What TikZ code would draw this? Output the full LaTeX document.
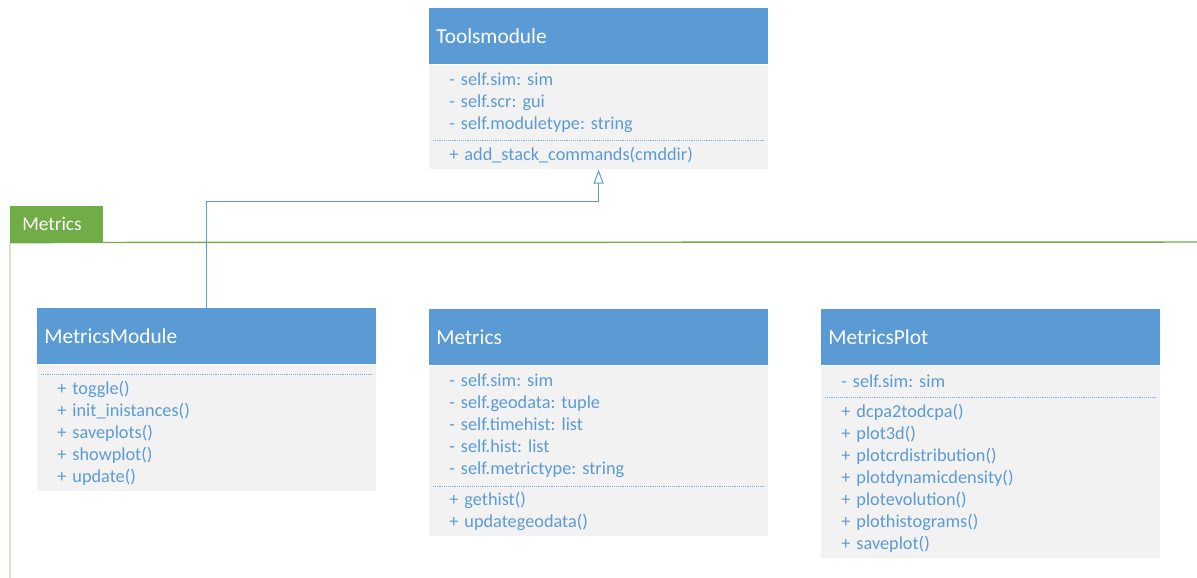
\documentclass[tikz,border=0pt]{standalone}
\usepackage{fontspec}
\setmainfont{Carlito}
\frenchspacing
\usepackage{xcolor}
\usetikzlibrary{arrows.meta,positioning}

\definecolor{hdrblue}{HTML}{5B9BD5}
\definecolor{txtblue}{HTML}{5B9BD5}
\definecolor{bodygray}{HTML}{F2F2F2}
\definecolor{pkggreen}{HTML}{70AD47}
\definecolor{pkgpale}{HTML}{D5E8C8}

\begin{document}
\begin{tikzpicture}[x=0.75pt,y=-0.75pt,>=Latex,
 hdr/.style={fill=hdrblue,text=white,anchor=north west,minimum width=254pt,minimum height=42pt,
   inner xsep=5.25pt,text width=243.5pt,align=left,font=\fontsize{16}{19}\selectfont},
 part/.style={fill=bodygray,text=txtblue,minimum width=254pt,inner xsep=15pt,inner ysep=0pt,
   text width=224pt,align=left,font=\fontsize{13.7}{16.5}\selectfont},
 sep/.style={draw=txtblue!80,line width=0.6pt,dash pattern=on 0.6pt off 0.8pt,shorten <=3pt,shorten >=3pt},
 inh/.style={draw=hdrblue,line width=0.75pt,-{Triangle[open,length=10.5pt,width=7.5pt]}},
 pkgtab/.style={fill=pkggreen,text=white,anchor=north west,minimum width=69.75pt,minimum height=27pt,
   inner xsep=9pt,text width=51.75pt,align=left,font=\fontsize{14.5}{17}\selectfont}]
\useasboundingbox (0,0) rectangle (1197,578);

% package
\node[pkgtab] (pkg) at (10,206) {Metrics};
\coordinate (pkgend) at (1197,242);
\coordinate (pkgfoot) at (10,578);
\draw[pkgpale,line width=1.2pt] (pkg.south west) -- (pkgfoot);
\draw[pkggreen,line width=1.1pt] (pkg.south west) -- (pkgend);

% Toolsmodule
\node[hdr] (thead) at (429,8) {Toolsmodule};
\node[part,minimum height=56.25pt,below=0pt of thead] (tattr)
 {- self.sim: sim\\- self.scr: gui\\- self.moduletype: string};
\node[part,minimum height=21.75pt,below=0pt of tattr] (tops) {+ add\_stack\_commands(cmddir)};
\draw[sep] (tattr.south west) -- (tattr.south east);

% MetricsModule
\node[hdr] (mmhead) at (37,308) {MetricsModule};
\node[part,minimum height=6.75pt,below=0pt of mmhead] (mmattr) {};
\node[part,minimum height=87.75pt,below=0pt of mmattr] (mmops)
 {+ toggle()\\+ init\_inistances()\\+ saveplots()\\+ showplot()\\+ update()};
\draw[sep] (mmattr.south west) -- (mmattr.south east);

% Metrics
\node[hdr] (mhead) at (429,309) {Metrics};
\node[part,minimum height=90pt,below=0pt of mhead] (mattr)
 {- self.sim: sim\\- self.geodata: tuple\\- self.timehist: list\\- self.hist: list\\- self.metrictype: string};
\node[part,minimum height=37.5pt,below=0pt of mattr] (mops) {+ gethist()\\+ updategeodata()};
\draw[sep] (mattr.south west) -- (mattr.south east);

% MetricsPlot
\node[hdr] (phead) at (821,309) {MetricsPlot};
\node[part,minimum height=23.25pt,below=0pt of phead] (pattr) {- self.sim: sim};
\node[part,minimum height=120.75pt,below=0pt of pattr] (pops)
 {+ dcpa2todcpa()\\+ plot3d()\\+ plotcrdistribution()\\+ plotdynamicdensity()\\+ plotevolution()\\+ plothistograms()\\+ saveplot()};
\draw[sep] (pattr.south west) -- (pattr.south east);

% inheritance
\draw[inh] (mmhead.north) -- ++(0,-107) -| (tops.south);
\end{tikzpicture}
\end{document}
